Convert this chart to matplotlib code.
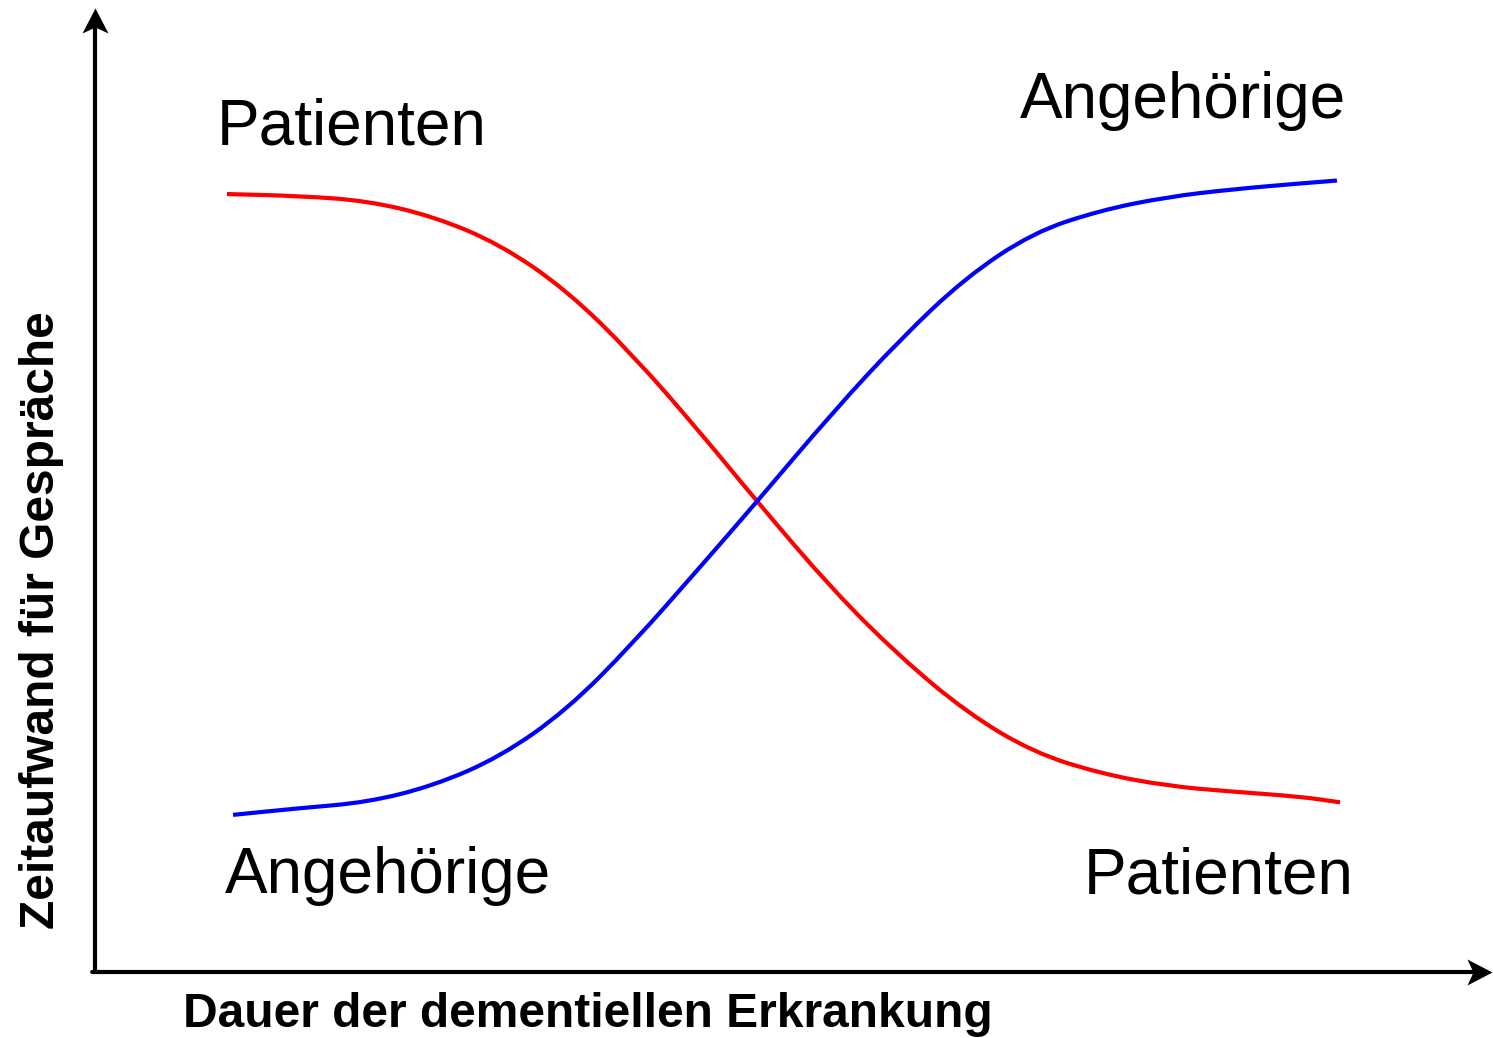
import matplotlib
matplotlib.use('Agg')
import matplotlib.pyplot as plt
import numpy as np
from matplotlib.path import Path
from matplotlib.patches import PathPatch

plt.rcParams['font.family'] = ['Liberation Sans', 'DejaVu Sans']

# Dauer der Erkrankung (0-100, relative Einheiten)
x_patienten = [9.45, 14.67, 19.47, 24.19, 28.99, 33.79, 38.51, 43.31, 47.39,
               52.83, 57.62, 62.42, 67.14, 71.94, 76.74, 81.46, 86.26, 89.12]
y_patienten = [80.7, 80.5, 80.0, 78.4, 75.5, 70.7, 64.0, 56.0, 48.8,
               39.6, 32.7, 26.9, 22.8, 20.6, 19.3, 18.7, 18.2, 17.6]

x_angehoerige = [9.88, 14.67, 19.47, 24.19, 28.99, 33.79, 38.51, 43.31, 47.39,
                 52.83, 57.62, 62.28, 67.14, 71.94, 76.74, 81.46, 86.26, 88.90]
y_angehoerige = [16.3, 17.0, 17.6, 19.3, 22.3, 27.2, 34.1, 42.0, 48.8,
                 58.1, 65.6, 72.0, 76.7, 79.0, 80.4, 81.2, 81.8, 82.1]


def glatte_kurve(xs, ys):
    # quadratische Bezier-Segmente durch die Mittelpunkte -> weiche Kurve
    p = np.column_stack([xs, ys])
    verts = [p[0], (p[0] + p[1]) / 2]
    codes = [Path.MOVETO, Path.LINETO]
    for i in range(1, len(p) - 1):
        verts += [p[i], (p[i] + p[i + 1]) / 2]
        codes += [Path.CURVE3, Path.CURVE3]
    verts.append(p[-1])
    codes.append(Path.LINETO)
    return Path(verts, codes)


fig = plt.figure(figsize=(14.93, 10.38), dpi=100)
# Achsenursprung bei ca. (95, 972) px, Pfeilspitzen bei x=1492 und y=8
ax = fig.add_axes([95 / 1493, 66 / 1038, 1397 / 1493, 964 / 1038])
ax.set_xlim(0, 100)
ax.set_ylim(0, 100)
ax.axis('off')

# Kurven
for xs, ys, farbe in [(x_patienten, y_patienten, '#ff0000'),
                      (x_angehoerige, y_angehoerige, '#0000ff')]:
    ax.add_patch(PathPatch(glatte_kurve(xs, ys), fill=False, edgecolor=farbe, lw=3,
                           capstyle='butt', joinstyle='round', clip_on=False))

# Achsenlinien (etwas vor der Spitze enden, die Spitze kommt als Marker)
linie = dict(arrowstyle='-', lw=3, color='black', shrinkA=0, shrinkB=11)
ax.annotate('', xy=(100, 0), xytext=(-0.2, 0), arrowprops=linie, annotation_clip=False)
ax.annotate('', xy=(0, 100), xytext=(0, 0), arrowprops=linie, annotation_clip=False)

# Pfeilspitzen mit Einkerbung
code_spitze = [Path.MOVETO, Path.LINETO, Path.LINETO, Path.LINETO, Path.CLOSEPOLY]
spitze_rechts = Path([(0, 0), (-25, 13), (-19, 0), (-25, -13), (0, 0)], code_spitze)
spitze_oben = Path([(0, 0), (-13, -25), (0, -19), (13, -25), (0, 0)], code_spitze)
ax.plot(100, 0, marker=spitze_rechts, ms=36, color='black', mew=0, clip_on=False)
ax.plot(0, 100, marker=spitze_oben, ms=36, color='black', mew=0, clip_on=False)

# Beschriftungen
ax.text(8.7, 85.8, 'Patienten', fontsize=46, ha='left', va='baseline')
ax.text(66.2, 88.6, 'Angehörige', fontsize=46, ha='left', va='baseline')
ax.text(9.3, 8.2, 'Angehörige', fontsize=46, ha='left', va='baseline')
ax.text(70.8, 8.1, 'Patienten', fontsize=46, ha='left', va='baseline')

ax.text(6.3, -5.7, 'Dauer der dementiellen Erkrankung', fontsize=34.5,
        fontweight='bold', ha='left', va='baseline', clip_on=False)
ax.text(-2.95, 36.5, 'Zeitaufwand für Gespräche', fontsize=34.5, fontweight='bold',
        rotation=90, rotation_mode='anchor', ha='center', va='baseline', clip_on=False)

fig.savefig('out.png', dpi=100)
